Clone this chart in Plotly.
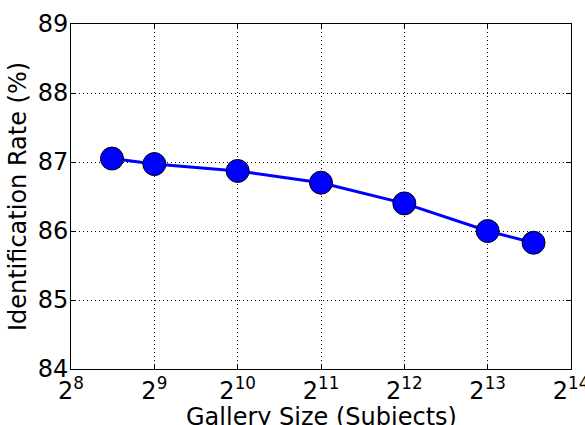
import math
import plotly.graph_objects as go

gallery_size = [360, 512, 1024, 2048, 4096, 8192, 12000]
identification_rate = [87.05, 86.97, 86.87, 86.70, 86.40, 86.00, 85.83]
x_tick_vals = [256, 512, 1024, 2048, 4096, 8192, 16384]
x_tick_text = ["2<sup>8</sup>", "2<sup>9</sup>", "2<sup>10</sup>", "2<sup>11</sup>",
               "2<sup>12</sup>", "2<sup>13</sup>", "2<sup>14</sup>"]
y_tick_vals = [84, 85, 86, 87, 88, 89]
x_title = "Gallery Size (Subjects)"
y_title = "Identification Rate (%)"

font = "DejaVu Sans"

fig = go.Figure()
fig.add_trace(go.Scatter(
    x=gallery_size, y=identification_rate, mode="lines+markers",
    line=dict(color="#0000ff", width=3),
    marker=dict(size=23, color="#0000ff", line=dict(color="black", width=1)),
    showlegend=False, cliponaxis=False,
))

fig.add_annotation(
    text=x_title, xref="paper", yref="paper", x=0.5, y=0,
    xanchor="center", yanchor="top", yshift=-32, showarrow=False,
    font=dict(size=24, family=font, color="black"),
)

fig.update_layout(
    width=585, height=425,
    margin=dict(l=71, r=14, t=24, b=56),
    paper_bgcolor="white", plot_bgcolor="white",
    font=dict(family=font, color="black"),
    xaxis=dict(
        type="log", range=[math.log10(256) - 1e-7, math.log10(16384) + 1e-7],
        tickvals=x_tick_vals, ticktext=x_tick_text,
        tickfont=dict(size=24, family=font), ticklabeloverflow="allow",
        showgrid=True, gridcolor="black", griddash="1px,3px", gridwidth=1,
        showline=True, linecolor="black", linewidth=1, mirror="ticks",
        ticks="inside", ticklen=5, tickcolor="black",
        zeroline=False, automargin=False,
    ),
    yaxis=dict(
        range=[84, 89], tickvals=y_tick_vals,
        tickfont=dict(size=24, family=font), ticklabeloverflow="allow",
        ticklabelstandoff=-3,
        showgrid=True, gridcolor="black", griddash="1px,3px", gridwidth=1,
        showline=True, linecolor="black", linewidth=1, mirror="ticks",
        ticks="inside", ticklen=5, tickcolor="black",
        title=dict(text=y_title, font=dict(size=24, family=font), standoff=4),
        zeroline=False, automargin=False,
    ),
)

fig.write_html("out.html", config={"displayModeBar": False},
               post_script="document.body.style.margin='0';document.body.style.overflow='hidden';")
